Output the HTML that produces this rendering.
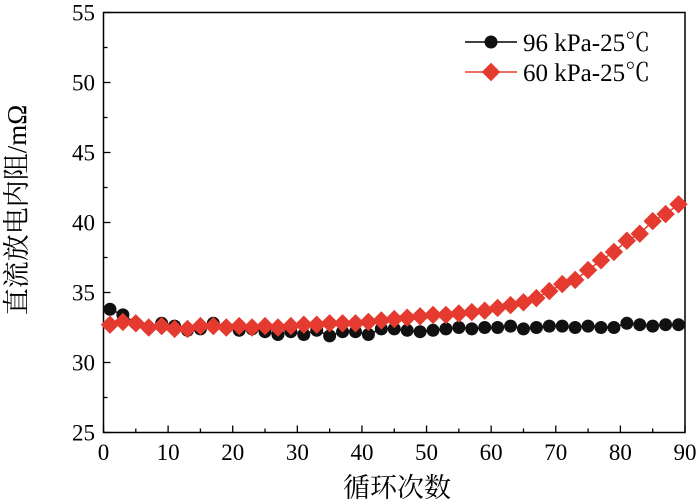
<!DOCTYPE html>
<html><head><meta charset="utf-8"><style>
html,body{margin:0;padding:0;background:#fff;}
svg{display:block;font-family:"Liberation Serif","Noto Serif CJK SC",serif;}
</style></head><body>
<svg id="chart" width="700" height="503" viewBox="0 0 700 503">
<g id="axes"></g><g id="series"></g>
<g>
 <line x1="465" y1="42" x2="517" y2="42" stroke="#000" stroke-width="1.5"/>
 <circle cx="491" cy="42" r="6.5" fill="#111"/>
 <text x="523" y="51" font-size="25">96 kPa-25℃</text>
 <line x1="465" y1="72" x2="517" y2="72" stroke="#e53a2f" stroke-width="1.5"/>
 <rect x="484.5" y="65.5" width="13" height="13" fill="#e53a2f" transform="rotate(45 491 72)"/>
 <text x="523" y="81" font-size="25">60 kPa-25℃</text>
</g>
<text x="397" y="497" font-size="27" text-anchor="middle">循环次数</text>
<text transform="translate(26 210) rotate(-90)" font-size="27" text-anchor="middle">直流放电内阻/mΩ</text>
</svg>
<script>
const cycles=[1,3,5,7,9,11,13,15,17,19,21,23,25,27,29,31,33,35,37,39,41,43,45,47,49,51,53,55,57,59,61,63,65,67,69,71,73,75,77,79,81,83,85,87,89];
const series96=[33.8,33.4,32.8,32.5,32.8,32.6,32.3,32.4,32.8,32.5,32.3,32.4,32.2,32.0,32.2,32.0,32.3,31.9,32.2,32.2,32.0,32.4,32.4,32.3,32.2,32.3,32.4,32.5,32.4,32.5,32.5,32.6,32.4,32.5,32.6,32.6,32.5,32.6,32.5,32.5,32.8,32.7,32.6,32.7,32.7];
const series60=[32.7,32.9,32.8,32.5,32.6,32.4,32.4,32.6,32.6,32.5,32.6,32.5,32.6,32.5,32.6,32.7,32.7,32.8,32.8,32.8,32.9,33.0,33.1,33.2,33.3,33.4,33.4,33.5,33.6,33.7,33.9,34.1,34.3,34.6,35.1,35.6,35.9,36.6,37.3,37.9,38.7,39.2,40.1,40.6,41.3];
const xTicks=[0,10,20,30,40,50,60,70,80,90];
const yTicks=[25,30,35,40,45,50,55];
const NS="http://www.w3.org/2000/svg";
const L=103.5,R=685,T=12.5,B=432.5;
const xs=v=>L+(v-0)/90*(R-L);
const ys=v=>B-(v-25)/30*(B-T);
function mk(tag,at,parent){const e=document.createElementNS(NS,tag);for(const k in at)e.setAttribute(k,at[k]);parent.appendChild(e);return e;}
const ax=document.getElementById('axes'),sg=document.getElementById('series');
const frame=mk('rect',{x:L,y:T,width:R-L,height:B-T,fill:'none',stroke:'#000','stroke-width':1.5},ax);


xTicks.forEach((t,i)=>{
 const x=xs(t);
 mk('line',{x1:x,y1:B,x2:x,y2:B-7,stroke:'#000','stroke-width':1.3},ax);
 if(i<xTicks.length-1){const xm=xs(t+5);mk('line',{x1:xm,y1:B,x2:xm,y2:B-4,stroke:'#000','stroke-width':1.3},ax);}
 const tx=mk('text',{x:x,y:460,'font-size':23,'text-anchor':'middle'},ax);tx.textContent=t;
 
 
});
yTicks.forEach((t,i)=>{
 const y=ys(t);
 mk('line',{x1:L,y1:y,x2:L+7,y2:y,stroke:'#000','stroke-width':1.3},ax);
 if(i<yTicks.length-1){const ym=ys(t+2.5);mk('line',{x1:L,y1:ym,x2:L+4,y2:ym,stroke:'#000','stroke-width':1.3},ax);}
 const tx=mk('text',{x:95,y:y+8,'font-size':23,'text-anchor':'end'},ax);tx.textContent=t;
 
 
});
function line(data,color,name){
 const p=mk('polyline',{points:cycles.map((c,i)=>xs(c)+','+ys(data[i])).join(' '),fill:'none',stroke:color,'stroke-width':1.5},sg);
 
 
}
line(series96,'#111','line-96kpa');
cycles.forEach((c,i)=>{
 const m=mk('circle',{cx:xs(c),cy:ys(series96[i]),r:6.5,fill:'#111'},sg);
 
 
});
line(series60,'#e53a2f','line-60kpa');
cycles.forEach((c,i)=>{
 const x=xs(c),y=ys(series60[i]);
 const m=mk('rect',{x:x-6.5,y:y-6.5,width:13,height:13,fill:'#e53a2f',transform:`rotate(45 ${x} ${y})`},sg);
 
 
});
</script>
</body></html>
